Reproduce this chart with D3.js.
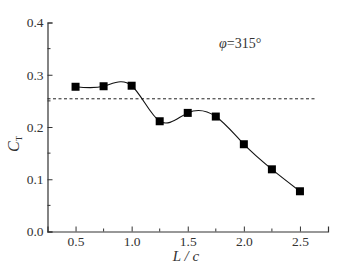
<!DOCTYPE html>
<html><head><meta charset="utf-8">
<script src="https://cdn.jsdelivr.net/npm/d3@7"></script>
<style>body{margin:0;background:#fff}svg{display:block}text{font-family:"Liberation Serif","Times New Roman",serif;fill:#333}</style>
</head><body>
<script>
const xVals=[0.5,0.75,1.0,1.25,1.5,1.75,2.0,2.25,2.5];
const ctVals=[0.277,0.278,0.279,0.211,0.227,0.220,0.167,0.119,0.077];
const refLine=0.254;
const xTicks=[0.5,1.0,1.5,2.0,2.5];
const yTicks=[0.0,0.1,0.2,0.3,0.4];
const W=352,H=267;
const svg=d3.select("body").append("svg").attr("width",W).attr("height",H);
const x=d3.scaleLinear().domain([0.25,2.75]).range([47.5,328]);
const y=d3.scaleLinear().domain([0,0.4]).range([231.5,22.5]);
const g=svg.append("g");
const xa=g.append("g").attr("transform",`translate(0,${y(0)})`).call(d3.axisBottom(x).tickValues(xTicks).tickFormat(d3.format(".1f")).tickSize(-5).tickPadding(5));
const ya=g.append("g").attr("transform",`translate(${x(0.25)},0)`).call(d3.axisLeft(y).tickValues(yTicks).tickFormat(d3.format(".1f")).tickSize(-5).tickPadding(4));
[xa,ya].forEach(a=>{a.attr("font-family",null);a.select(".domain").attr("stroke","#333").attr("stroke-width",1.2);a.selectAll(".tick line").attr("stroke","#333");a.selectAll("text").style("font-size","13.5px").attr("fill","#333");});
g.append("g").selectAll("line").data([0.75,1.25,1.75,2.25]).join("line").attr("x1",d=>x(d)).attr("x2",d=>x(d)).attr("y1",y(0)).attr("y2",y(0)-3).attr("stroke","#333");
g.append("g").selectAll("line").data([0.05,0.15,0.25,0.35]).join("line").attr("y1",d=>y(d)).attr("y2",d=>y(d)).attr("x1",x(0.25)).attr("x2",x(0.25)+3).attr("stroke","#333");
g.append("line").attr("x1",x(0.25)).attr("x2",x(2.65)).attr("y1",y(refLine)).attr("y2",y(refLine)).attr("stroke","#222").attr("stroke-dasharray","3,2.5").attr("stroke-width",1);
const data=xVals.map((v,i)=>[v,ctVals[i]]);
g.append("path").datum(data).attr("fill","none").attr("stroke","#111").attr("stroke-width",1.1)
 .attr("d",d3.line().x(d=>x(d[0])).y(d=>y(d[1])).curve(d3.curveNatural));
g.append("g").selectAll("rect").data(data).join("rect").attr("x",d=>x(d[0])-4).attr("y",d=>y(d[1])-4).attr("width",8).attr("height",8).attr("fill","#000");
const phi=svg.append("text").attr("x",219).attr("y",48).style("font-size","14px");
phi.append("tspan").style("font-style","italic").text("φ");
phi.append("tspan").text("=315°");
svg.append("text").attr("x",186).attr("y",261).attr("text-anchor","middle").style("font-size","15px").style("font-style","italic").text("L / c");
const yl=svg.append("text").attr("transform","translate(19,152) rotate(-90)").style("font-size","16px");
yl.append("tspan").style("font-style","italic").text("C");
yl.append("tspan").attr("dy",3).style("font-size","9px").text("T");
</script>
</body></html>
